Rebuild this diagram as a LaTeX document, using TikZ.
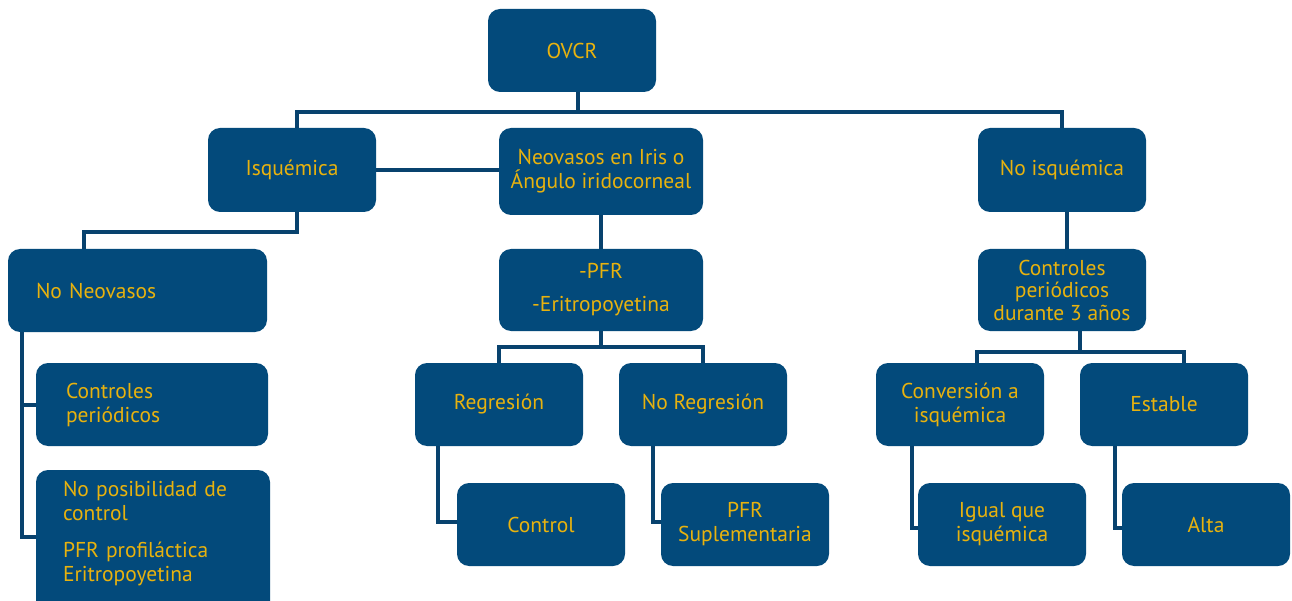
\documentclass[tikz,border=0pt]{standalone}
\usepackage{fontspec}
\usepackage{tikz}
\usetikzlibrary{calc}
\newfontfamily\boxfont{PT Sans}

\definecolor{ovblue}{RGB}{3,74,123}
\definecolor{ovline}{RGB}{8,66,110}
\definecolor{ovgold}{RGB}{232,178,14}

\tikzset{
  box/.style={rectangle, rounded corners=12pt, fill=ovblue, text=ovgold,
    font=\boxfont\fontsize{21.5}{24}\selectfont, align=center, anchor=north west,
    minimum width=168pt, minimum height=83pt, inner sep=4pt, outer sep=0pt},
  leftbox/.style={box, align=left, minimum width=0pt},
  link/.style={draw=ovline, line width=4pt}
}

\begin{document}
\begin{tikzpicture}[x=1pt, y=-1pt]
        \useasboundingbox (0,0) rectangle (1292,601);
        % top level
        \node[box] (ovcr) at (488,9) {OVCR};
        \node[box, minimum height=84pt] (isq) at (208,128) {Isquémica};
        \node[box, minimum width=204pt, minimum height=87pt] (neo) at (499,128)
            {Neovasos en Iris o\\Ángulo iridocorneal};
        \node[box, minimum height=84pt] (noisq) at (978,128) {No isquémica};
        % second level
        \node[leftbox, text width=203pt, inner xsep=28pt, minimum height=83pt] (noneo) at (8,249) {No Neovasos};
        \node[box, minimum width=204pt, minimum height=82pt] (pfr) at (499,249)
            {-PFR\\[9pt]-Eritropoyetina};
        \node[box, minimum height=82pt] (ctrlper) at (978,249)
            {Controles\\[-1.5pt]periódicos\\[-1.5pt]durante 3 años};
        % isquemica, sin neovasos
        \node[leftbox, text width=172pt, inner xsep=30pt, minimum height=83pt] (ctrl) at (36,363)
            {Controles\\periódicos};
        \node[leftbox, text width=180pt, inner xsep=27pt, inner ysep=11pt] (nopos) at (36,470)
            {No posibilidad de\\control\\[13pt]PFR profiláctica\\Eritropoyetina\rule[-30pt]{0pt}{30pt}};
        % neovasos
        \node[box] (regr) at (415,363) {Regresión};
        \node[box] (noregr) at (619,363) {No Regresión};
        \node[box] (control) at (457,483) {Control};
        \node[box] (pfrsup) at (661,483) {PFR\\Suplementaria};
        % no isquemica
        \node[box] (conv) at (876,363) {Conversión a\\isquémica};
        \node[box] (estab) at (1080,363) {Estable};
        \node[box] (igual) at (918,483) {Igual que\\isquémica};
        \node[box] (alta) at (1122,483) {Alta};

        % connectors
        \draw[link] ($(ovcr.south)+(6,0)$) -- ++(0,20) coordinate (bus);
        \draw[link] ($(isq.north)+(5,0)$) |- (bus) -| (noisq.north);
        \draw[link] (isq.east) -- (isq.east -| neo.west);
        \draw[link] ($(isq.south)+(5,0)$) -- ++(0,20) -| ($(noneo.north west)+(76,0)$);
        \draw[link] ($(noneo.south west)+(14,0)$) |- (ctrl.west);
        \draw[link] ($(noneo.south west)+(14,0)$) |- ($(nopos.north west)+(0,67)$);
        \draw[link] (neo.south) -- (pfr.north);
        \draw[link] (pfr.south) -- ++(0,16) coordinate (busb);
        \draw[link] (regr.north) |- (busb) -| (noregr.north);
        \draw[link] ($(regr.south west)+(23,0)$) |- ($(control.west)+(0,-3)$);
        \draw[link] ($(noregr.south west)+(34,0)$) |- ($(pfrsup.west)+(0,-3)$);
        \draw[link] ($(noisq.south)+(5,0)$) -- ($(ctrlper.north)+(5,0)$);
        \draw[link] ($(ctrlper.south)+(18,0)$) -- ++(0,21) coordinate (busc);
        \draw[link] ($(conv.north)+(17,0)$) |- (busc) -| ($(estab.north)+(20,0)$);
        \draw[link] ($(conv.south west)+(36,0)$) |- ($(igual.west)+(0,3)$);
        \draw[link] ($(estab.south west)+(35,0)$) |- ($(alta.west)+(0,3)$);
\end{tikzpicture}
\end{document}
